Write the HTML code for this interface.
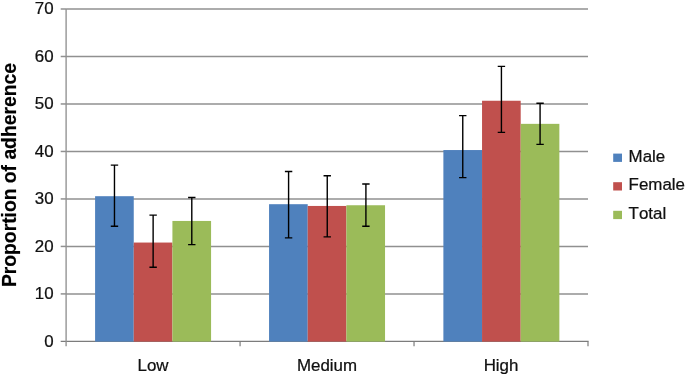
<!DOCTYPE html>
<html><head><meta charset="utf-8"><title>Proportion of adherence</title>
<style>
html,body{margin:0;padding:0;background:#fff;}
body{width:685px;height:375px;overflow:hidden;}
svg{display:block;}
text{font-kerning:none;font-family:"Liberation Sans",Arial,Helvetica,sans-serif;fill:#111;}
.t{font-size:16.9px;stroke:#000;stroke-width:0.22px;}
.yl{font-size:20.1px;font-weight:bold;fill:#000;stroke:#000;stroke-width:0.2px;}
</style></head><body>
<svg width="685" height="375" viewBox="0 0 685 375">
<rect width="685" height="375" fill="#fff"/>

<line x1="66.10" y1="293.91" x2="588.00" y2="293.91" stroke="#909090" stroke-width="1.5"/>
<line x1="66.10" y1="246.43" x2="588.00" y2="246.43" stroke="#909090" stroke-width="1.5"/>
<line x1="66.10" y1="198.94" x2="588.00" y2="198.94" stroke="#909090" stroke-width="1.5"/>
<line x1="66.10" y1="151.46" x2="588.00" y2="151.46" stroke="#909090" stroke-width="1.5"/>
<line x1="66.10" y1="103.97" x2="588.00" y2="103.97" stroke="#909090" stroke-width="1.5"/>
<line x1="66.10" y1="56.49" x2="588.00" y2="56.49" stroke="#909090" stroke-width="1.5"/>
<line x1="66.10" y1="9.00" x2="588.00" y2="9.00" stroke="#909090" stroke-width="1.5"/>
<line x1="60.70" y1="341.40" x2="588.60" y2="341.40" stroke="#7c7c7c" stroke-width="1.2"/>
<rect x="95.09" y="196.20" width="38.66" height="145.40" fill="#4f81bd"/>
<rect x="133.75" y="242.55" width="38.66" height="99.05" fill="#c0504d"/>
<rect x="172.41" y="220.95" width="38.66" height="120.65" fill="#9bbb59"/>
<rect x="269.06" y="204.20" width="38.66" height="137.40" fill="#4f81bd"/>
<rect x="307.72" y="205.95" width="38.66" height="135.65" fill="#c0504d"/>
<rect x="346.38" y="205.25" width="38.66" height="136.35" fill="#9bbb59"/>
<rect x="443.38" y="150.05" width="38.66" height="191.55" fill="#4f81bd"/>
<rect x="482.04" y="100.75" width="38.66" height="240.85" fill="#c0504d"/>
<rect x="520.70" y="123.85" width="38.66" height="217.75" fill="#9bbb59"/>
<line x1="66.10" y1="9.00" x2="66.10" y2="346.20" stroke="#909090" stroke-width="1.35"/>
<line x1="60.70" y1="293.91" x2="66.10" y2="293.91" stroke="#909090" stroke-width="1.5"/>
<line x1="60.70" y1="246.43" x2="66.10" y2="246.43" stroke="#909090" stroke-width="1.5"/>
<line x1="60.70" y1="198.94" x2="66.10" y2="198.94" stroke="#909090" stroke-width="1.5"/>
<line x1="60.70" y1="151.46" x2="66.10" y2="151.46" stroke="#909090" stroke-width="1.5"/>
<line x1="60.70" y1="103.97" x2="66.10" y2="103.97" stroke="#909090" stroke-width="1.5"/>
<line x1="60.70" y1="56.49" x2="66.10" y2="56.49" stroke="#909090" stroke-width="1.5"/>
<line x1="60.70" y1="9.00" x2="66.10" y2="9.00" stroke="#909090" stroke-width="1.5"/>
<line x1="240.07" y1="341.40" x2="240.07" y2="346.20" stroke="#7c7c7c" stroke-width="1.2"/>
<line x1="414.03" y1="341.40" x2="414.03" y2="346.20" stroke="#7c7c7c" stroke-width="1.2"/>
<line x1="588.00" y1="341.40" x2="588.00" y2="346.20" stroke="#7c7c7c" stroke-width="1.2"/>
<path d="M114.47 165.10V226.30M110.77 165.10H118.17M110.77 226.30H118.17" stroke="#000" stroke-width="1.4" fill="none"/>
<path d="M153.13 215.10V267.30M149.43 215.10H156.83M149.43 267.30H156.83" stroke="#000" stroke-width="1.4" fill="none"/>
<path d="M191.79 197.50V244.60M188.09 197.50H195.49M188.09 244.60H195.49" stroke="#000" stroke-width="1.4" fill="none"/>
<path d="M288.59 171.50V237.90M284.89 171.50H292.29M284.89 237.90H292.29" stroke="#000" stroke-width="1.4" fill="none"/>
<path d="M327.25 175.70V236.90M323.55 175.70H330.95M323.55 236.90H330.95" stroke="#000" stroke-width="1.4" fill="none"/>
<path d="M365.91 184.00V226.30M362.21 184.00H369.61M362.21 226.30H369.61" stroke="#000" stroke-width="1.4" fill="none"/>
<path d="M462.76 115.60V177.60M459.06 115.60H466.46M459.06 177.60H466.46" stroke="#000" stroke-width="1.4" fill="none"/>
<path d="M501.42 66.40V132.40M497.72 66.40H505.12M497.72 132.40H505.12" stroke="#000" stroke-width="1.4" fill="none"/>
<path d="M540.08 103.30V144.40M536.38 103.30H543.78M536.38 144.40H543.78" stroke="#000" stroke-width="1.4" fill="none"/>
<text class="t" x="53.6" y="346.80" text-anchor="end">0</text>
<text class="t" x="53.6" y="299.31" text-anchor="end">10</text>
<text class="t" x="53.6" y="251.83" text-anchor="end">20</text>
<text class="t" x="53.6" y="204.34" text-anchor="end">30</text>
<text class="t" x="53.6" y="156.86" text-anchor="end">40</text>
<text class="t" x="53.6" y="109.37" text-anchor="end">50</text>
<text class="t" x="53.6" y="61.89" text-anchor="end">60</text>
<text class="t" x="53.6" y="14.40" text-anchor="end">70</text>
<text class="t" x="153.08" y="371.3" text-anchor="middle">Low</text>
<text class="t" x="327.05" y="371.3" text-anchor="middle">Medium</text>
<text class="t" x="501.02" y="371.3" text-anchor="middle">High</text>
<rect x="613.2" y="153.60" width="8.8" height="8.3" fill="#4f81bd"/>
<text class="t" x="628.6" y="161.60">Male</text>
<rect x="613.2" y="182.20" width="8.8" height="8.3" fill="#c0504d"/>
<text class="t" x="628.6" y="190.20">Female</text>
<rect x="613.2" y="210.80" width="8.8" height="8.3" fill="#9bbb59"/>
<text class="t" x="628.6" y="218.80">Total</text>
<text class="yl" transform="translate(16.3 175.1) rotate(-90) scale(0.9605 1)" text-anchor="middle">Proportion of adherence</text>
</svg></body></html>
